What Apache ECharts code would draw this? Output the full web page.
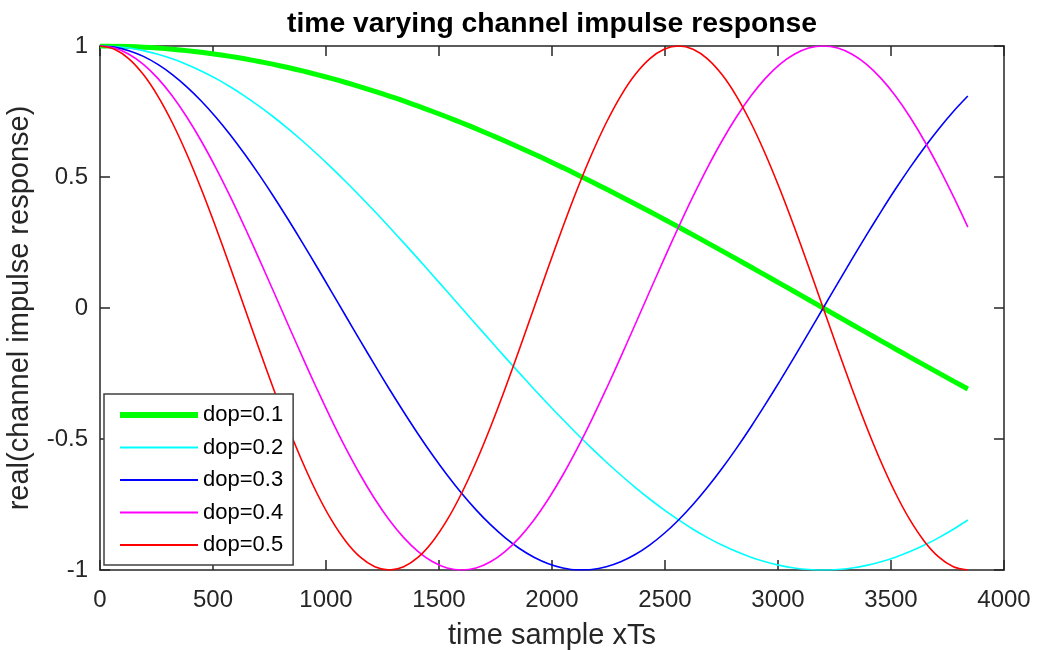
<!DOCTYPE html>
<html>
<head>
<meta charset="utf-8">
<script src="https://cdn.jsdelivr.net/npm/echarts@6/dist/echarts.min.js"></script>
<style>html,body{margin:0;padding:0;background:#fff;}#c{width:1037px;height:650px;}</style>
</head>
<body>
<div id="c"></div>
<script>
// time samples (xTs)
const xSamples = [0,64,128,192,256,320,384,448,512,576,640,704,768,832,896,960,1024,1088,1152,1216,1280,1344,1408,1472,1536,1600,1664,1728,1792,1856,1920,1984,2048,2112,2176,2240,2304,2368,2432,2496,2560,2624,2688,2752,2816,2880,2944,3008,3072,3136,3200,3264,3328,3392,3456,3520,3584,3648,3712,3776,3840];
const seriesNames = ['dop=0.1','dop=0.2','dop=0.3','dop=0.4','dop=0.5'];
const dop01 = [1,.9995,.998,.9956,.9921,.9877,.9823,.9759,.9686,.9603,.9511,.9409,.9298,.9178,.9048,.891,.8763,.8607,.8443,.8271,.809,.7902,.7705,.7501,.729,.7071,.6845,.6613,.6374,.6129,.5878,.5621,.5358,.509,.4818,.454,.4258,.3971,.3681,.3387,.309,.279,.2487,.2181,.1874,.1564,.1253,.0941,.0628,.0314,0,-.0314,-.0628,-.0941,-.1253,-.1564,-.1874,-.2181,-.2487,-.279,-.309];
const dop02 = [1,.998,.9921,.9823,.9686,.9511,.9298,.9048,.8763,.8443,.809,.7705,.729,.6845,.6374,.5878,.5358,.4818,.4258,.3681,.309,.2487,.1874,.1253,.0628,0,-.0628,-.1253,-.1874,-.2487,-.309,-.3681,-.4258,-.4818,-.5358,-.5878,-.6374,-.6845,-.729,-.7705,-.809,-.8443,-.8763,-.9048,-.9298,-.9511,-.9686,-.9823,-.9921,-.998,-1,-.998,-.9921,-.9823,-.9686,-.9511,-.9298,-.9048,-.8763,-.8443,-.809];
const dop03 = [1,.9956,.9823,.9603,.9298,.891,.8443,.7902,.729,.6613,.5878,.509,.4258,.3387,.2487,.1564,.0628,-.0314,-.1253,-.2181,-.309,-.3971,-.4818,-.5621,-.6374,-.7071,-.7705,-.8271,-.8763,-.9178,-.9511,-.9759,-.9921,-.9995,-.998,-.9877,-.9686,-.9409,-.9048,-.8607,-.809,-.7501,-.6845,-.6129,-.5358,-.454,-.3681,-.279,-.1874,-.0941,0,.0941,.1874,.279,.3681,.454,.5358,.6129,.6845,.7501,.809];
const dop04 = [1,.9921,.9686,.9298,.8763,.809,.729,.6374,.5358,.4258,.309,.1874,.0628,-.0628,-.1874,-.309,-.4258,-.5358,-.6374,-.729,-.809,-.8763,-.9298,-.9686,-.9921,-1,-.9921,-.9686,-.9298,-.8763,-.809,-.729,-.6374,-.5358,-.4258,-.309,-.1874,-.0628,.0628,.1874,.309,.4258,.5358,.6374,.729,.809,.8763,.9298,.9686,.9921,1,.9921,.9686,.9298,.8763,.809,.729,.6374,.5358,.4258,.309];
const dop05 = [1,.9877,.9511,.891,.809,.7071,.5878,.454,.309,.1564,0,-.1564,-.309,-.454,-.5878,-.7071,-.809,-.891,-.9511,-.9877,-1,-.9877,-.9511,-.891,-.809,-.7071,-.5878,-.454,-.309,-.1564,0,.1564,.309,.454,.5878,.7071,.809,.891,.9511,.9877,1,.9877,.9511,.891,.809,.7071,.5878,.454,.309,.1564,0,-.1564,-.309,-.454,-.5878,-.7071,-.809,-.891,-.9511,-.9877,-1];
const xTicks = [0,500,1000,1500,2000,2500,3000,3500,4000];
const yTicks = [-1,-0.5,0,0.5,1];

const allValues = [dop01, dop02, dop03, dop04, dop05];
const colors = ['#00ff00','#00ffff','#0000ff','#ff00ff','#ff0000'];
const widths = [5,1.6,1.6,1.6,1.6];
const axisColor = '#262626';
const font = '"Liberation Sans", Arial, Helvetica, sans-serif';

function xAxisDef(pos, showLabel) {
  return {
    type: 'value', position: pos, min: xTicks[0], max: xTicks[xTicks.length-1], interval: xTicks[1]-xTicks[0],
    axisLine: {show: true, onZero: false, lineStyle: {color: axisColor, width: 1.5}},
    axisTick: {show: true, inside: true, length: 10, lineStyle: {color: axisColor, width: 1.5}},
    axisLabel: {show: showLabel, color: axisColor, fontSize: 24, fontFamily: font, margin: 18,
      formatter: v => String(v)},
    splitLine: {show: false},
    name: showLabel ? 'time sample xTs' : '', nameLocation: 'middle', nameGap: 51,
    nameTextStyle: {color: axisColor, fontSize: 29, fontFamily: font}
  };
}
function yAxisDef(pos, showLabel) {
  return {
    type: 'value', position: pos, min: yTicks[0], max: yTicks[yTicks.length-1], interval: yTicks[1]-yTicks[0],
    axisLine: {show: true, onZero: false, lineStyle: {color: axisColor, width: 1.5}},
    axisTick: {show: true, inside: true, length: 10, lineStyle: {color: axisColor, width: 1.5}},
    axisLabel: {show: showLabel, color: axisColor, fontSize: 24, fontFamily: font, margin: 12,
      formatter: v => String(v)},
    splitLine: {show: false},
    name: showLabel ? 'real(channel impulse response)' : '', nameLocation: 'middle', nameGap: 66,
    nameTextStyle: {color: axisColor, fontSize: 29, fontFamily: font}
  };
}

const chart = echarts.init(document.getElementById('c'), null, {renderer: 'canvas'});
chart.setOption({
  backgroundColor: '#ffffff',
  animation: false,
  title: {
    text: 'time varying channel impulse response', left: 547, textAlign: 'center', top: 5,
    textStyle: {color: '#000', fontSize: 28.3, fontWeight: 'bold', fontFamily: font}
  },
  grid: {left: 100, right: 33, top: 46, bottom: 80, containLabel: false, outerBoundsMode: 'none'},
  xAxis: [xAxisDef('bottom', true), xAxisDef('top', false)],
  yAxis: [yAxisDef('left', true), yAxisDef('right', false)],
  legend: {
    orient: 'vertical', left: 104, top: 394,
    data: seriesNames.map((n, i) => ({name: n, lineStyle: {width: widths[i] === 5 ? 6 : 2.2}})),
    itemWidth: 78, itemHeight: 20, itemGap: 10.5,
    padding: [10, 10, 9, 13],
    backgroundColor: '#fff', borderColor: '#404040', borderWidth: 1.5,
    itemStyle: {opacity: 0},
    textStyle: {color: '#000', fontSize: 22, fontFamily: font}
  },
  series: allValues.map((vals, i) => ({
    name: seriesNames[i], type: 'line', xAxisIndex: 0, yAxisIndex: 0,
    data: xSamples.map((x, j) => [x, vals[j]]),
    smooth: 0.3, symbol: 'none', showSymbol: false,
    lineStyle: {color: colors[i], width: widths[i]},
    itemStyle: {color: colors[i]}
  }))
});
</script>
</body>
</html>
